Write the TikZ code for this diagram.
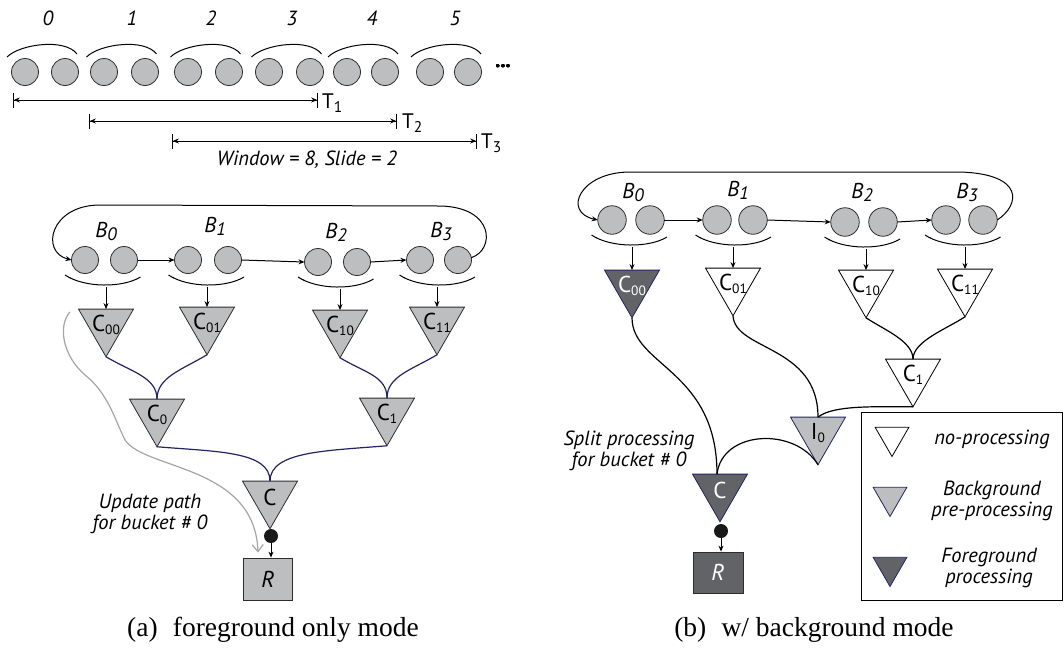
\documentclass[tikz,border=0pt]{standalone}
\usepackage{fontspec}
\newfontfamily\lab{PT Sans}
\newfontfamily\capfont{Liberation Serif}
\usetikzlibrary{shapes.geometric,arrows.meta,calc}

\definecolor{ballfill}{RGB}{188,190,192}
\definecolor{fgfill}{RGB}{98,99,102}
\definecolor{navyline}{RGB}{35,35,100}
\definecolor{updgray}{RGB}{165,165,165}
\definecolor{outline}{RGB}{45,45,45}

\newcommand\fsz[1]{\fontsize{#1}{#1}\selectfont}
% letter with a lowered index
\newcommand\bucketlab[1]{{\lab\itshape\fsz{21.5}B\raisebox{-3pt}{\fsz{18}#1}}}
\newcommand\tlab[1]{{\lab\fsz{21}T\raisebox{-4pt}{\fsz{15.5}#1}}}
\newcommand\clab[2]{{\lab\fsz{23}#1\raisebox{-2.5pt}{\fsz{13.5}#2}}}
% smile-shaped bracket under a pair of tuples
\newcommand\cupunder[2]{%
  \draw[cupline] (#1-39.5,#2+15) .. controls (#1-20,#2+28) and (#1+18,#2+28) .. (#1+36,#2+17);
  \draw[line width=0.6pt] (#1-34.5,#2+17.2) -- (#1-34,#2+18.5);}
% arc above a pair of tuples in the stream
\newcommand\capover[1]{%
  \draw[cupline] (#1-38,57) .. controls (#1-25,44) and (#1+20,38) .. (#1+32,54);}

\begin{document}
\begin{tikzpicture}[x=1pt,y=-1pt,
  ball/.style={circle, draw=outline, fill=ballfill, line width=0.8pt, minimum size=27pt, inner sep=0pt, outer sep=0pt},
  bigball/.style={ball, minimum size=28.5pt},
  tri/.style={regular polygon, regular polygon sides=3, shape border rotate=180, minimum size=63.5pt, inner sep=0pt, outer sep=0pt, line width=0.8pt, draw=outline},
  trigray/.style={tri, fill=ballfill},
  triwhite/.style={tri, fill=white, draw=black},
  trifg/.style={tri, fill=fgfill, draw=navyline},
  tribg/.style={tri, fill=ballfill, draw=navyline},
  legtri/.style={minimum size=39pt},
  txt/.style={font=\lab\itshape\fsz{20.5}, inner sep=0pt, align=center},
  tname/.style={inner sep=0pt},
  flowarrow/.style={line width=1pt, -{Stealth[length=6pt,width=5pt]}},
  cupline/.style={line width=1pt},
  mergeline/.style={line width=1.2pt, draw=navyline},
  mergeblack/.style={line width=1.2pt, draw=black},
  dotnode/.style={circle, fill=black!90, minimum size=14pt, inner sep=0pt},
  result/.style={draw=outline, line width=0.8pt, minimum width=49pt, minimum height=42pt, inner sep=0pt},
  span/.style={line width=0.8pt, arrows={Bar[width=15pt]Stealth[length=6pt,width=5pt]-Stealth[length=6pt,width=5pt]Bar[width=15pt]}},
  caption/.style={font=\capfont\fsz{27.5}, inner sep=0pt},
]
\useasboundingbox (0,0) rectangle (1064,649);

% ---------------- stream of tuples with sliding windows ----------------
\foreach \x/\n in {25/s1,65/s2,104/s3,145/s4,188/s5,229/s6,269/s7,310/s8,347/s9,385/s10,430/s11,468/s12}
  \node[ball] (\n) at (\x,72) {};
\foreach \c in {45,124.5,208.5,289.5,366,449} \capover{\c}
\node[inner sep=0pt, font=\lab\bfseries\fsz{20}] (more) at (503,66) {...};
\foreach \x/\d in {48/0,132/1,211/2,292/3,372/4,455/5}
  \node[anchor=base, inner sep=0pt, font=\lab\itshape\fsz{20.5}] (num\d) at (\x,25) {\d};

\coordinate (w1s) at (13,100);  \coordinate (w1e) at (318,100);
\coordinate (w2s) at (89,121);  \coordinate (w2e) at (397,121);
\coordinate (w3s) at (172,141); \coordinate (w3e) at (477,141);
\draw[span] (w1s) -- (w1e);
\draw[span] (w2s) -- (w2e);
\draw[span] (w3s) -- (w3e);
\node[anchor=base west, tname] (t1) at (322,108) {\tlab{1}};
\node[anchor=base west, tname] (t2) at (402,128) {\tlab{2}};
\node[anchor=base west, tname] (t3) at (481,148) {\tlab{3}};
\node[anchor=base, txt] (wlab) at (307,165) {Window = 8, Slide = 2};

% ---------------- (a) foreground only mode ----------------
\node[ball] (ab0a) at (85,260) {};  \node[ball] (ab0b) at (124,260) {};
\node[ball] (ab1a) at (188,260) {}; \node[ball] (ab1b) at (228,260) {};
\node[ball] (ab2a) at (318,262) {}; \node[ball] (ab2b) at (357,262) {};
\node[ball] (ab3a) at (420,260) {}; \node[ball] (ab3b) at (458,260) {};
\node[anchor=base, tname] (aB0) at (106,237) {\bucketlab{0}};
\node[anchor=base, tname] (aB1) at (215,232) {\bucketlab{1}};
\node[anchor=base, tname] (aB2) at (336,238) {\bucketlab{2}};
\node[anchor=base, tname] (aB3) at (441,237) {\bucketlab{3}};

\draw[flowarrow] (ab0b.east) -- (ab1a.west);
\draw[flowarrow] (ab1b.east) -- (ab2a.west);
\draw[flowarrow] (ab2b.east) -- (ab3a.west);
\draw[flowarrow] (ab3b.10) .. controls (495,250) and (495,207) .. (440,206)
  -- (100,205) .. controls (50,205) and (40,252) .. (ab0a.west);

\cupunder{104.5}{260}
\cupunder{208}{260}
\cupunder{337.5}{262}
\cupunder{439}{260}
\coordinate (ak0) at (104.5,287);
\coordinate (ak1) at (208,287);
\coordinate (ak2) at (337.5,289);
\coordinate (ak3) at (439,287);

\node[trigray] (ac00) at (106,325) {};
\node[trigray] (ac01) at (207,323) {};
\node[trigray] (ac10) at (340,326) {};
\node[trigray] (ac11) at (437,323) {};
\node[trigray] (ac0) at (157,415) {};
\node[trigray] (ac1) at (387,414) {};
\node[trigray] (acc) at (270,497) {};
\node[tname] (ac00l) at (ac00) {\clab{C}{00}};
\node[tname] (ac01l) at (ac01) {\clab{C}{01}};
\node[tname] (ac10l) at (ac10) {\clab{C}{10}};
\node[tname] (ac11l) at (ac11) {\clab{C}{11}};
\node[tname] (ac0l) at (ac0) {\clab{C}{0}};
\node[tname] (ac1l) at (ac1) {\clab{C}{1}};
\node[tname, font=\lab\fsz{23}] (accl) at (acc) {C};

\draw[flowarrow] (ak0 -| ac00.north) -- (ac00.north);
\draw[flowarrow] (ak1 -| ac01.north) -- (ac01.north);
\draw[flowarrow] (ak2 -| ac10.north) -- (ac10.north);
\draw[flowarrow] (ak3 -| ac11.north) -- (ac11.north);

\draw[mergeline] (ac00.south) .. controls +(25,15) and +(0,-22) .. (ac0.north);
\draw[mergeline] (ac01.south) .. controls +(-25,15) and +(0,-22) .. (ac0.north);
\draw[mergeline] (ac10.south) .. controls +(25,15) and +(0,-22) .. (ac1.north);
\draw[mergeline] (ac11.south) .. controls +(-25,15) and +(0,-22) .. (ac1.north);
\draw[mergeline] (ac0.south) .. controls +(60,5) and +(0,-30) .. (acc.north);
\draw[mergeline] (ac1.south) .. controls +(-60,5) and +(0,-30) .. (acc.north);

\node[dotnode] (adot) at (271,536) {};
\node[result, fill=ballfill] (ar) at (268,579) {};
\node[tname, font=\lab\itshape\fsz{23}] (arl) at (ar) {R};
\draw[flowarrow] (adot.south) -- (adot.south |- ar.north);

% update path for bucket 0
\coordinate (upstart) at (70,312);
\draw[updgray, line width=1.2pt, -{Straight Barb[length=7pt,width=11pt]}]
  (upstart) .. controls (58,325) and (62,355) .. (85,375)
  .. controls (108,393) and (115,420) .. (125,440)
  .. controls (145,470) and (255,465) .. ([xshift=-10pt,yshift=5pt]ar.north);
\node[txt] (uplab) at (150,514) {Update path\\[1pt]for bucket \# 0};

\node[caption] (capa) at (273,630) {(a)\hspace{0.3em} foreground only mode};

% ---------------- (b) with background mode ----------------
\node[bigball] (bb0a) at (612,220) {}; \node[bigball] (bb0b) at (650,220) {};
\node[bigball] (bb1a) at (717,220) {}; \node[bigball] (bb1b) at (753,220) {};
\node[bigball] (bb2a) at (845,222) {}; \node[bigball] (bb2b) at (883,222) {};
\node[bigball] (bb3a) at (946,220) {}; \node[bigball] (bb3b) at (983,220) {};
\node[anchor=base, tname] (bB0) at (633,198) {\bucketlab{0}};
\node[anchor=base, tname] (bB1) at (738,196) {\bucketlab{1}};
\node[anchor=base, tname] (bB2) at (862,198) {\bucketlab{2}};
\node[anchor=base, tname] (bB3) at (967,198) {\bucketlab{3}};

\draw[flowarrow] (bb0b.east) -- (bb1a.west);
\draw[flowarrow] (bb1b.east) -- (bb2a.west);
\draw[flowarrow] (bb2b.east) -- (bb3a.west);
\draw[flowarrow] (bb3b.east) .. controls (1020,205) and (1025,174) .. (960,172)
  -- (630,172) .. controls (580,172) and (562,212) .. (bb0a.west);

\cupunder{631}{220}
\cupunder{735}{220}
\cupunder{864}{222}
\cupunder{964.5}{220}
\coordinate (bk0) at (631,247);
\coordinate (bk1) at (735,247);
\coordinate (bk2) at (864,249);
\coordinate (bk3) at (964.5,247);

\node[trifg] (bc00) at (632,286) {};
\node[triwhite] (bc01) at (733,284) {};
\node[triwhite] (bc10) at (866,286) {};
\node[triwhite] (bc11) at (965,285) {};
\node[triwhite] (bc1) at (913,375) {};
\node[tribg] (bi0) at (818,433) {};
\node[trifg] (bcc) at (720,490) {};
\node[tname, text=white] (bc00l) at (bc00) {\clab{C}{00}};
\node[tname] (bc01l) at (bc01) {\clab{C}{01}};
\node[tname] (bc10l) at (bc10) {\clab{C}{10}};
\node[tname] (bc11l) at (bc11) {\clab{C}{11}};
\node[tname] (bc1l) at (bc1) {\clab{C}{1}};
\node[tname] (bi0l) at (bi0) {\clab{I}{0}};
\node[tname, text=white, font=\lab\fsz{23}] (bccl) at (bcc) {C};

\draw[flowarrow] (bk0 -| bc00.north) -- (bc00.north);
\draw[flowarrow] (bk1 -| bc01.north) -- (bc01.north);
\draw[flowarrow] (bk2 -| bc10.north) -- (bc10.north);
\draw[flowarrow] (bk3 -| bc11.north) -- (bc11.north);

\draw[mergeblack] (bc10.south) .. controls +(18,12) and +(0,-18) .. (bc1.north);
\draw[mergeblack] (bc11.south) .. controls +(-18,12) and +(0,-18) .. (bc1.north);
\draw[mergeblack] (bc01.south) .. controls +(2,35) and +(0,-72) .. (bi0.north);
\draw[mergeblack] (bc1.south) .. controls +(-40,0) and +(15,-12) .. (bi0.north);
\draw[mergeblack] (bc00.south) .. controls +(0,48) and +(0,-104) .. ([xshift=-3pt]bcc.north);
\draw[mergeblack] (bi0.south) .. controls +(-23,-38) and +(5,-44) .. ([xshift=-3pt]bcc.north);

\node[dotnode] (bdot) at (721,531) {};
\node[result, fill=fgfill, minimum width=50pt, minimum height=41pt] (br) at (718,572.5) {};
\node[tname, text=white, font=\lab\itshape\fsz{23}] (brl) at (br) {R};
\draw[flowarrow] (bdot.south) -- (bdot.south |- br.north);

\node[txt] (splitlab) at (629,451) {Split processing\\[1pt]for bucket \# 0};

% legend
\node[draw=black, line width=0.8pt, minimum width=201pt, minimum height=188pt, inner sep=0pt] (legbox) at (961.5,506) {};
\node[triwhite, legtri] (lg1) at (892,437) {};
\node[tribg, legtri] (lg2) at (890,497) {};
\node[trifg, legtri] (lg3) at (890,567) {};
\node[txt] (lg1t) at (992,439) {no-processing};
\node[txt] (lg2t) at (992,501) {Background\\pre-processing};
\node[txt] (lg3t) at (989,568) {Foreground\\processing};

\node[caption] (capb) at (814,630) {(b)\hspace{0.3em} w/ background mode};
\end{tikzpicture}
\end{document}
